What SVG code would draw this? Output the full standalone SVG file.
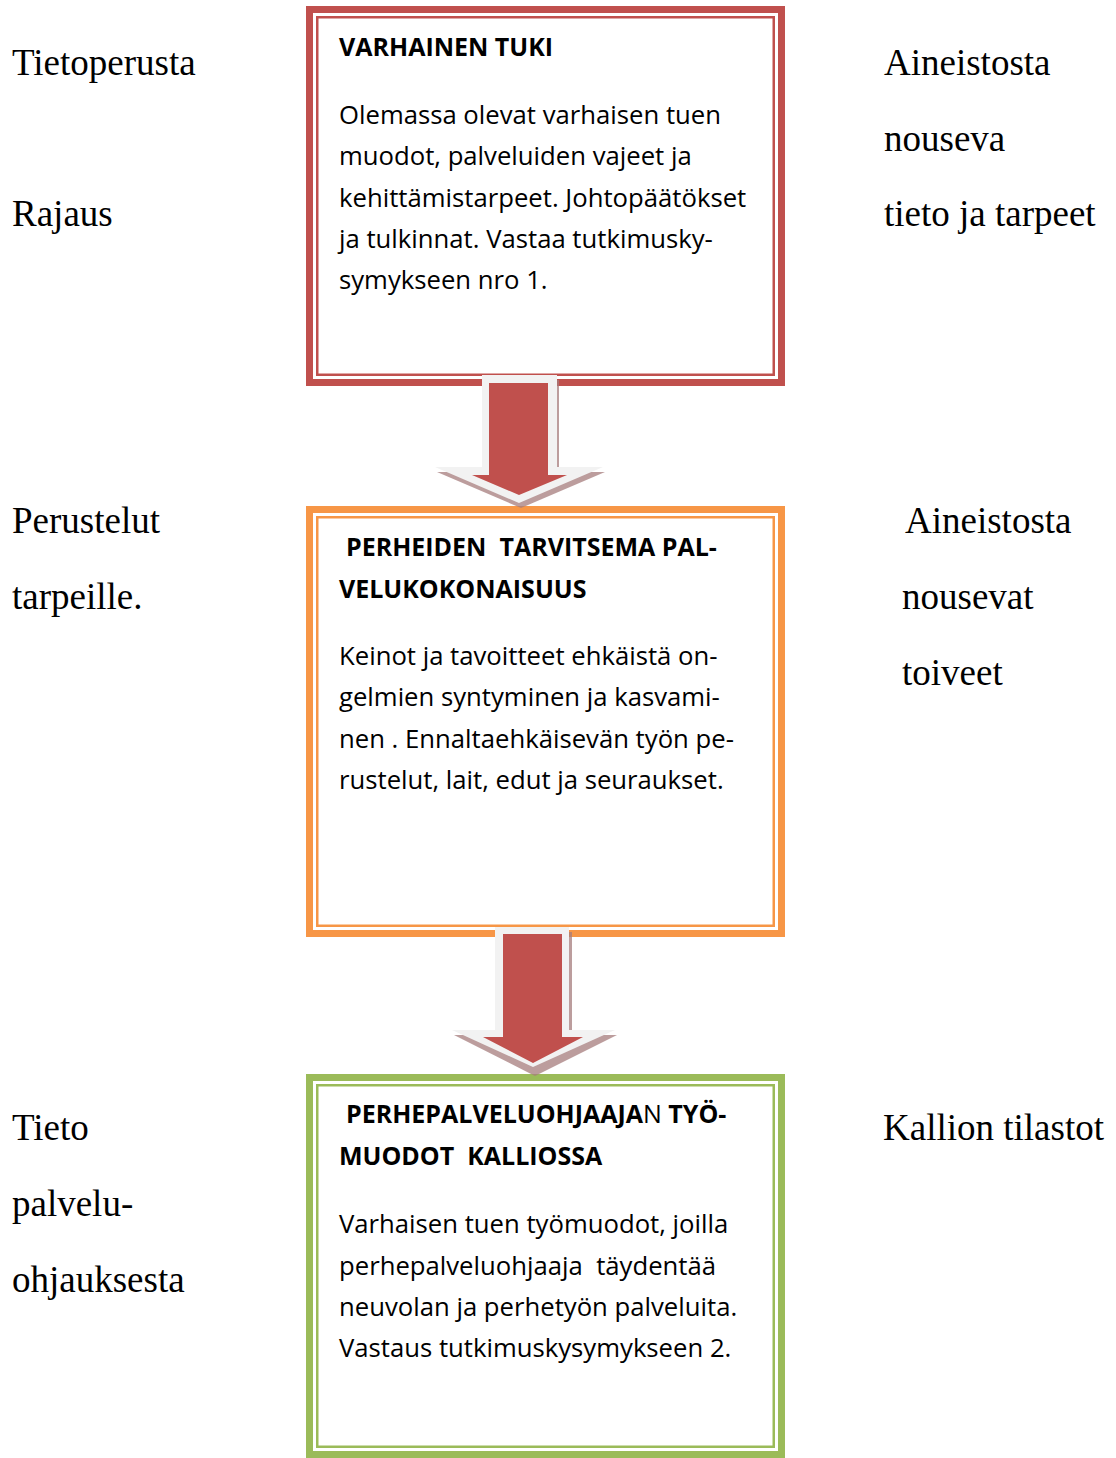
<svg xmlns="http://www.w3.org/2000/svg" width="1116" height="1458" viewBox="0 0 1116 1458">
<style>
.side{font-family:"Liberation Serif","Times New Roman",serif;font-size:37px;fill:#000}
.ttl{font-family:"Open Sans","Liberation Sans",sans-serif;font-size:25px;font-weight:bold;fill:#000;white-space:pre}
.body{font-family:"Open Sans","Liberation Sans",sans-serif;font-size:25.7px;fill:#000;white-space:pre}
.outer{fill:#fff;stroke-width:7}
.inner{fill:none;stroke-width:2.5}
.red{stroke:#c0504d}.orange{stroke:#f79646}.green{stroke:#9bbb59}
.arw-sh{fill:#a67c7c;opacity:0.75}
.arw-bg{fill:#f2f2f2}
.arw-fg{fill:#c0504d}
</style>
<rect width="1116" height="1458" fill="#fff"/>

<g id="side-labels">
<text class="side" x="12" y="75">Tietoperusta</text>
<text class="side" x="12" y="226">Rajaus</text>
<text class="side" x="884" y="75">Aineistosta</text>
<text class="side" x="884" y="151">nouseva</text>
<text class="side" x="884" y="226">tieto ja tarpeet</text>
<text class="side" x="12" y="533">Perustelut</text>
<text class="side" x="12" y="609">tarpeille.</text>
<text class="side" x="905" y="533">Aineistosta</text>
<text class="side" x="902" y="609">nousevat</text>
<text class="side" x="902" y="685">toiveet</text>
<text class="side" x="12" y="1140">Tieto</text>
<text class="side" x="12" y="1216">palvelu-</text>
<text class="side" x="12" y="1292">ohjauksesta</text>
<text class="side" x="883" y="1140">Kallion tilastot</text>
</g>

<g id="node-varhainen-tuki">
<rect class="outer red" x="309.5" y="9.5" width="472" height="373"/>
<rect class="inner red" x="317.25" y="17.25" width="456.5" height="357.5"/>
<text class="ttl" x="339" y="56">VARHAINEN TUKI</text>
<text class="body" x="339" y="124">Olemassa olevat varhaisen tuen</text>
<text class="body" x="339" y="165">muodot, palveluiden vajeet ja</text>
<text class="body" x="339" y="207">kehittämistarpeet. Johtopäätökset</text>
<text class="body" x="339" y="248">ja tulkinnat. Vastaa tutkimusky-</text>
<text class="body" x="339" y="289">symykseen nro 1.</text>
</g>

<g id="node-perheiden">
<rect class="outer orange" x="309.5" y="509.5" width="472" height="424"/>
<rect class="inner orange" x="317.25" y="517.25" width="456.5" height="408.5"/>
<text class="ttl" x="346" y="556">PERHEIDEN  TARVITSEMA PAL-</text>
<text class="ttl" x="339" y="598">VELUKOKONAISUUS</text>
<text class="body" x="339" y="665">Keinot ja tavoitteet ehkäistä on-</text>
<text class="body" x="339" y="706">gelmien syntyminen ja kasvami-</text>
<text class="body" x="339" y="748">nen . Ennaltaehkäisevän työn pe-</text>
<text class="body" x="339" y="789">rustelut, lait, edut ja seuraukset.</text>
</g>

<g id="node-perhepalveluohjaaja">
<rect class="outer green" x="309.5" y="1077.5" width="472" height="377"/>
<rect class="inner green" x="317.25" y="1085.25" width="456.5" height="361.5"/>
<text class="ttl" x="346" y="1123">PERHEPALVELUOHJAAJA<tspan font-weight="normal">N</tspan> TYÖ-</text>
<text class="ttl" x="339" y="1165">MUODOT  KALLIOSSA</text>
<text class="body" x="339" y="1233">Varhaisen tuen työmuodot, joilla</text>
<text class="body" x="339" y="1275">perhepalveluohjaaja  täydentää</text>
<text class="body" x="339" y="1316">neuvolan ja perhetyön palveluita.</text>
<text class="body" x="339" y="1357">Vastaus tutkimuskysymykseen 2.</text>
</g>

<g id="connectors">
<g id="arrow-1">
<polygon class="arw-sh" points="484,380 559,380 559,472 605,472 521,508 437,472 484,472"/>
<polygon class="arw-bg" points="482,375 557,375 557,467 603,467 519,503 435,467 482,467"/>
<polygon class="arw-fg" points="489,383 548,383 548,475 567,475 519,495 472,475 489,475"/>
</g>
<g id="arrow-2">
<polygon class="arw-sh" points="497,932 572,932 572,1035 617,1035 535,1076 454,1035 497,1035"/>
<polygon class="arw-bg" points="495,927 569,927 569,1030 615,1030 533,1067 452,1030 495,1030"/>
<polygon class="arw-fg" points="503,934 562,934 562,1037 583,1037 533,1063 483,1037 503,1037"/>
</g>
</g>
</svg>
